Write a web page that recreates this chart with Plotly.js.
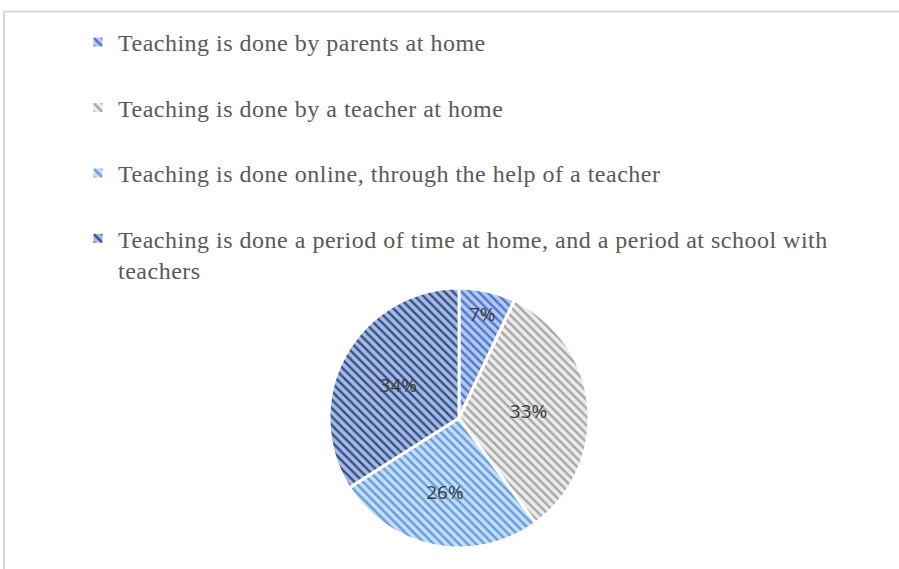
<!DOCTYPE html>
<html>
<head>
<meta charset="utf-8">
<script src="https://cdn.plot.ly/plotly-3.0.1.min.js"></script>
<style>html,body{margin:0;padding:0;background:#fff;}#chart{width:899px;height:569px;}</style>
</head>
<body>
<div id="chart"></div>
<script>
const categories = [
  "Teaching is done by parents at home",
  "Teaching is done by a teacher at home",
  "Teaching is done online, through the help of a teacher",
  "Teaching is done a period of time at home, and a period at school with<br>teachers"
];
const values = [7, 33, 26, 34];
const bgColors = ["#b7c9ee", "#ececec", "#c8ddf5", "#a9badd"];
const fgColors = ["#4a76d0", "#a6a6a6", "#5f9ddf", "#2f4e8e"];

const labels = categories.map((c, i) =>
  "<span style='letter-spacing:0.5px'>" + c + "</span>" + (i === 3 ? "" : "<br> "));

const trace = {
  type: "pie",
  labels: labels,
  values: values,
  sort: false,
  direction: "clockwise",
  rotation: 0,
  textinfo: "percent",
  texttemplate: "%{percent:.0%}",
  insidetextorientation: "horizontal",
  textposition: "inside",
  textfont: {family: "Open Sans, Liberation Sans, sans-serif", size: 19, color: "#3a3a3a"},
  marker: {
    colors: bgColors,
    line: {color: "#ffffff", width: 3},
    pattern: {shape: "\\", fgcolor: fgColors, bgcolor: bgColors, size: 6, solidity: 0.4, fillmode: "replace"}
  },
  domain: {x: [329/899, 589/899], y: [21/569, 281/569]},
  hoverinfo: "label+percent"
};

const layout = {
  width: 899, height: 569,
  margin: {l: 0, r: 0, t: 0, b: 0},
  paper_bgcolor: "#ffffff",
  showlegend: true,
  legend: {
    x: 78/899, y: 1 - 20/569, xanchor: "left", yanchor: "top",
    font: {family: "Liberation Serif, Times New Roman, serif", size: 24, color: "#595959"},
    valign: "top",
    itemwidth: 30,
    bgcolor: "rgba(0,0,0,0)"
  },
  shapes: [
    {type: "line", xref: "paper", yref: "paper", x0: 4/899, x1: 1, y0: 1 - 11.5/569, y1: 1 - 11.5/569, line: {color: "#d9d9d9", width: 2}},
    {type: "line", xref: "paper", yref: "paper", x0: 4/899, x1: 4/899, y0: 0, y1: 1 - 11.5/569, line: {color: "#d9d9d9", width: 2}}
  ]
};

Plotly.newPlot("chart", [trace], layout, {displayModeBar: false, staticPlot: true});
</script>
</body>
</html>
